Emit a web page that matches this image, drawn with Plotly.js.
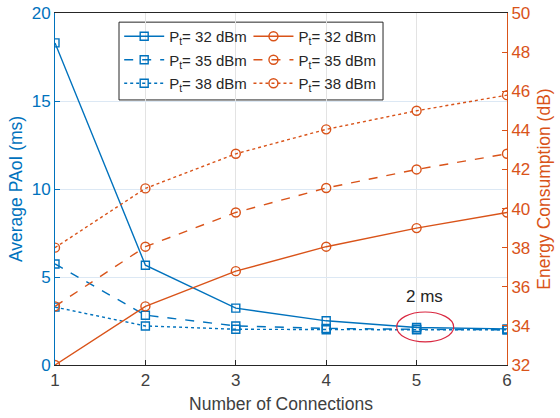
<!DOCTYPE html>
<html>
<head>
<meta charset="utf-8">
<script src="https://cdn.plot.ly/plotly-3.0.1.min.js"></script>
<style>html,body{margin:0;padding:0;background:#fff;}#chart{width:560px;height:418px;}</style>
</head>
<body>
<div id="chart"></div>
<script>
const connections = [1, 2, 3, 4, 5, 6];
const paoi32 = [18.3, 5.67, 3.23, 2.51, 2.13, 2.05];
const paoi35 = [5.74, 2.83, 2.22, 2.08, 2.03, 2.0];
const paoi38 = [3.29, 2.22, 2.03, 2.0, 2.0, 2.0];
const energy32 = [32, 35.0, 36.8, 38.05, 39.0, 39.8];
const energy35 = [35.0, 38.05, 39.8, 41.05, 42.0, 42.8];
const energy38 = [38.0, 41.03, 42.8, 44.05, 45.0, 45.8];
const legendLabels = ['P<sub>t</sub>= 32 dBm', 'P<sub>t</sub>= 35 dBm', 'P<sub>t</sub>= 38 dBm'];
const tickLabelsX = ['1', '2', '3', '4', '5', '6'];

const BLUE = '#0072BD';
const ORANGE = '#D95319';
const dashes = ['solid', 'dash', 'dot'];
const paoiSets = [paoi32, paoi35, paoi38];
const energySets = [energy32, energy35, energy38];

const traces = [];
paoiSets.forEach((ys, i) => {
  traces.push({
    x: connections, y: ys, type: 'scatter', mode: 'lines+markers',
    name: legendLabels[i], legend: 'legend', legendgroup: 'b' + i,
    line: {color: BLUE, width: 1.4, dash: dashes[i]},
    marker: {symbol: 'square-open', size: 8, color: BLUE, line: {width: 1.4}},
    yaxis: 'y'
  });
});
energySets.forEach((ys, i) => {
  traces.push({
    x: connections, y: ys, type: 'scatter', mode: 'lines+markers',
    name: legendLabels[i], legend: 'legend2', legendgroup: 'o' + i,
    line: {color: ORANGE, width: 1.4, dash: dashes[i]},
    marker: {symbol: 'circle-open', size: 9, color: ORANGE, line: {width: 1.4}},
    yaxis: 'y2'
  });
});

const font = {family: 'Liberation Sans, Arial, sans-serif', size: 17, color: '#262626'};

const layout = {
  width: 560, height: 418,
  margin: {l: 55, r: 53, t: 13, b: 53},
  paper_bgcolor: '#fff', plot_bgcolor: '#fff',
  font: font,
  showlegend: true,
  xaxis: {
    range: [1, 6], tickvals: connections, ticktext: tickLabelsX,
    showgrid: true, gridcolor: '#e3e3e3', gridwidth: 1,
    zeroline: false, showline: true, linecolor: '#262626', linewidth: 1, mirror: true,
    ticks: 'inside', ticklen: 5, tickcolor: '#262626',
    tickfont: {size: 17, color: '#404040'},
    title: {text: 'Number of Connections', font: {size: 17.5, color: '#404040'}, standoff: 8}
  },
  yaxis: {
    range: [0, 20], dtick: 5, tick0: 0,
    showgrid: true, gridcolor: '#dce8f4', gridwidth: 1,
    zeroline: false, showline: true, linecolor: BLUE, linewidth: 1,
    ticks: 'inside', ticklen: 5, tickcolor: BLUE,
    tickfont: {size: 17, color: BLUE},
    title: {text: 'Average PAoI (ms)', font: {size: 17.5, color: BLUE}, standoff: 4}
  },
  yaxis2: {
    range: [32, 50], dtick: 2, tick0: 32,
    overlaying: 'y', side: 'right', anchor: 'x',
    showgrid: false, zeroline: false, showline: true, linecolor: ORANGE, linewidth: 1,
    ticks: 'inside', ticklen: 5, tickcolor: ORANGE,
    tickfont: {size: 17, color: ORANGE},
    title: {text: 'Energy Consumption (dB)', font: {size: 17.5, color: ORANGE}, standoff: 8}
  },
  legend: {
    x: 0.142, y: 0.98, xanchor: 'left', yanchor: 'top',
    bgcolor: 'rgba(255,255,255,0)', borderwidth: 0,
    font: {size: 15, color: '#262626'}, tracegroupgap: 1, itemwidth: 40
  },
  legend2: {
    x: 0.428, y: 0.98, xanchor: 'left', yanchor: 'top',
    bgcolor: 'rgba(255,255,255,0)', borderwidth: 0,
    font: {size: 15, color: '#262626'}, tracegroupgap: 1, itemwidth: 40
  },
  shapes: [
    {type: 'rect', xref: 'paper', yref: 'paper', x0: 0.1416, x1: 0.7257, y0: 0.753, y1: 0.974,
     line: {color: '#262626', width: 1}, fillcolor: '#fff', layer: 'below'},
    {type: 'circle', xref: 'x', yref: 'y', x0: 4.78, x1: 5.41, y0: 1.31, y1: 3.01,
     line: {color: '#D9263F', width: 1.2}}
  ],
  annotations: [
    {x: 5.09, y: 3.92, xref: 'x', yref: 'y', text: '2 ms', showarrow: false,
     font: {size: 17, color: '#262626'}}
  ]
};

Plotly.newPlot('chart', traces, layout, {displayModeBar: false, staticPlot: true});
</script>
</body>
</html>
